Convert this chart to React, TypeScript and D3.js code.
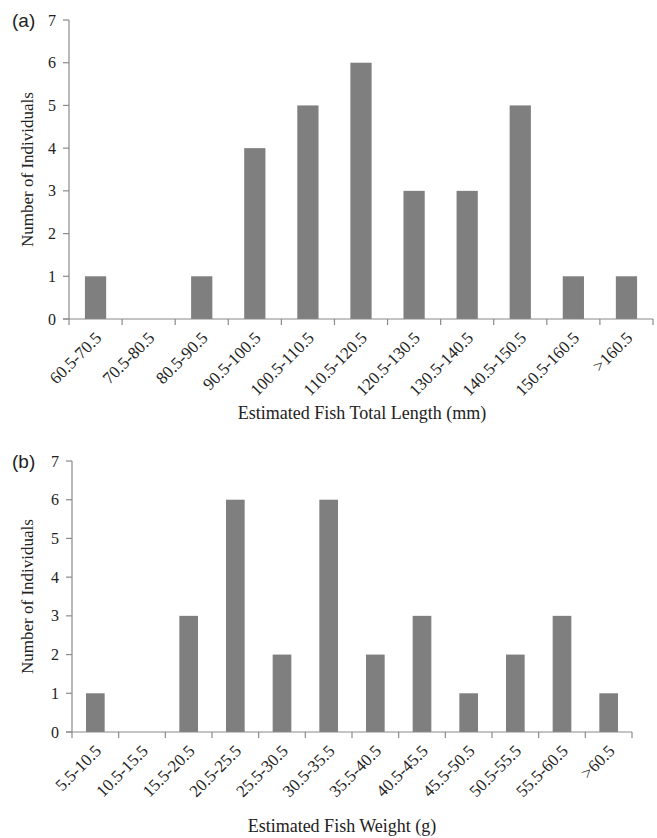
import React from "react";
import * as d3 from "d3";

const lengthBins = [
  "60.5-70.5", "70.5-80.5", "80.5-90.5", "90.5-100.5", "100.5-110.5", "110.5-120.5",
  "120.5-130.5", "130.5-140.5", "140.5-150.5", "150.5-160.5", ">160.5",
];
const lengthCounts = [1, 0, 1, 4, 5, 6, 3, 3, 5, 1, 1];

const weightBins = [
  "5.5-10.5", "10.5-15.5", "15.5-20.5", "20.5-25.5", "25.5-30.5", "30.5-35.5",
  "35.5-40.5", "40.5-45.5", "45.5-50.5", "50.5-55.5", "55.5-60.5", ">60.5",
];
const weightCounts = [1, 0, 3, 6, 2, 6, 2, 3, 1, 2, 3, 1];

const yTicks = [0, 1, 2, 3, 4, 5, 6, 7];

const AXIS = "#8a8a8a";
const BAR = "#7f7f7f";
const TEXT = "#222";
const SERIF = "'Liberation Serif', 'Times New Roman', serif";

type PanelProps = {
  tag: string;
  bins: string[];
  counts: number[];
  x0: number;
  x1: number;
  yTop: number;
  yZero: number;
  xLabel: string;
  xLabelX: number;
  xLabelY: number;
};

function Panel({ tag, bins, counts, x0, x1, yTop, yZero, xLabel, xLabelX, xLabelY }: PanelProps) {
  const x = d3.scaleBand<string>().domain(bins).range([x0, x1]).padding(0);
  const y = d3.scaleLinear().domain([0, 7]).range([yZero, yTop]);
  const bw = x.bandwidth() * 0.4;
  const boundaries = bins.map((b) => x(b) as number).concat([x1]);

  return (
    <g>
      <text x={12} y={yTop + 7} fontFamily="'Liberation Sans', Arial, sans-serif" fontSize={19} fill={TEXT}>
        {tag}
      </text>
      {bins.map((b, i) => (
        <rect
          key={b}
          x={(x(b) as number) + x.bandwidth() / 2 - bw / 2}
          y={y(counts[i])}
          width={bw}
          height={yZero - y(counts[i])}
          fill={BAR}
        />
      ))}
      {/* y axis */}
      <line x1={x0} x2={x0} y1={yTop} y2={yZero} stroke={AXIS} strokeWidth={1.2} />
      {yTicks.map((t) => (
        <g key={t}>
          <line x1={x0 - 6} x2={x0} y1={y(t)} y2={y(t)} stroke={AXIS} strokeWidth={1.2} />
          <text x={x0 - 13} y={y(t)} dy="0.35em" textAnchor="end" fontFamily={SERIF} fontSize={16} fill={TEXT}>
            {t}
          </text>
        </g>
      ))}
      {/* x axis */}
      <line x1={x0 - 6} x2={x1} y1={yZero} y2={yZero} stroke={AXIS} strokeWidth={1.2} />
      {boundaries.map((bx, i) => (
        <line key={i} x1={bx} x2={bx} y1={yZero} y2={yZero + 6} stroke={AXIS} strokeWidth={1.2} />
      ))}
      {bins.map((b) => (
        <text
          key={b}
          transform={`translate(${(x(b) as number) + x.bandwidth() / 2 + 7},${yZero + 20}) rotate(-45)`}
          textAnchor="end"
          fontFamily={SERIF}
          fontSize={17}
          fill={TEXT}
        >
          {b}
        </text>
      ))}
      <text x={xLabelX} y={xLabelY} textAnchor="middle" fontFamily={SERIF} fontSize={18} fill={TEXT}>
        {xLabel}
      </text>
      <text
        transform={`translate(27,${(yTop + yZero) / 2}) rotate(-90)`}
        textAnchor="middle"
        dy="0.35em"
        fontFamily={SERIF}
        fontSize={17}
        fill={TEXT}
      >
        Number of Individuals
      </text>
    </g>
  );
}

export default function App() {
  return (
    <svg width={657} height={838} style={{ position: "absolute", left: 0, top: 0, background: "#fff" }}>
      <Panel
        tag="(a)"
        bins={lengthBins}
        counts={lengthCounts}
        x0={69}
        x1={653}
        yTop={20}
        yZero={319}
        xLabel="Estimated Fish Total Length (mm)"
        xLabelX={362}
        xLabelY={419}
      />
      <Panel
        tag="(b)"
        bins={weightBins}
        counts={weightCounts}
        x0={72}
        x1={632}
        yTop={461}
        yZero={732}
        xLabel="Estimated Fish Weight (g)"
        xLabelX={342}
        xLabelY={832}
      />
    </svg>
  );
}
